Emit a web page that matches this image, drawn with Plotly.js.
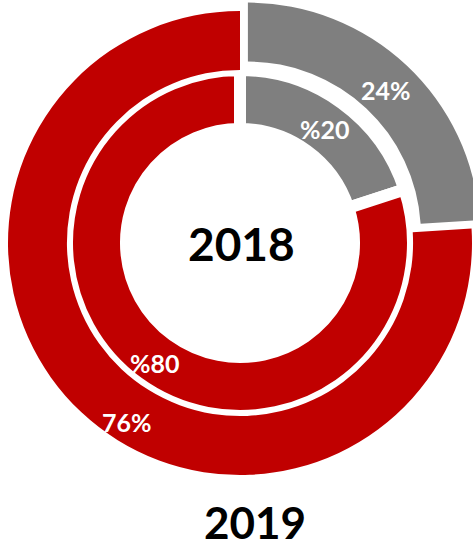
<!DOCTYPE html>
<html><head><meta charset="utf-8">
<script src="https://cdn.plot.ly/plotly-3.0.1.min.js"></script>
<style>html,body{margin:0;padding:0;overflow:hidden;background:#fff}#chart{width:482px;height:550px}</style>
</head><body><div id="chart"></div><script>
// Data
const segments = ['Gray', 'Red'];
const values2018 = [20, 80];   // inner ring
const values2019 = [24, 76];   // outer ring
const ringTitles = ['2018', '2019'];
const labels2018 = values2018.map(v => '%' + v);
const labels2019 = values2019.map(v => v + '%');

const colors = ['#7F7F7F', '#C00000'];
const T = 'rgba(0,0,0,0)';
const W = 482, H = 550;
function dom(cx, cy, r) { return {x: [(cx - r) / W, (cx + r) / W], y: [1 - (cy + r) / H, 1 - (cy - r) / H]}; }
const common = {type: 'pie', labels: segments, sort: false, direction: 'clockwise', rotation: 0,
  textinfo: 'none', hoverinfo: 'skip', showlegend: false};

const inner = Object.assign({}, common, {values: values2018, domain: dom(240, 243, 173), hole: 0.659,
  marker: {colors: colors, line: {color: '#ffffff', width: 12}}});
const outerRed = Object.assign({}, common, {values: values2019, domain: dom(240, 243, 232), hole: 0.746,
  marker: {colors: [T, colors[1]], line: {width: 0}}});
const outerGray = Object.assign({}, common, {values: values2019, domain: dom(247.9, 234.6, 232), hole: 0.746,
  marker: {colors: [colors[0], T], line: {width: 0}}});

function ann(text, x, y, size, color) {
  return {text: text, x: x / W, y: 1 - y / H, xref: 'paper', yref: 'paper', showarrow: false,
    xanchor: 'center', yanchor: 'middle', borderpad: 0,
    font: {family: 'Lato', size: size, color: color, weight: 'bold'}};
}
const annotations = [
  ann(labels2019[0], 386, 90, 25, '#ffffff'),
  ann(labels2019[1], 127, 422, 25, '#ffffff'),
  ann(labels2018[0], 325, 129, 25, '#ffffff'),
  ann(labels2018[1], 155, 363, 25, '#ffffff'),
  ann(ringTitles[0], 241, 244, 46, '#000000'),
  ann(ringTitles[1], 255, 522, 44, '#000000')
];

Plotly.newPlot('chart', [inner, outerRed, outerGray], {
  width: W, height: H, margin: {l: 0, r: 0, t: 0, b: 0},
  paper_bgcolor: '#ffffff', plot_bgcolor: '#ffffff', annotations: annotations
}, {displayModeBar: false, staticPlot: true});
</script></body></html>
